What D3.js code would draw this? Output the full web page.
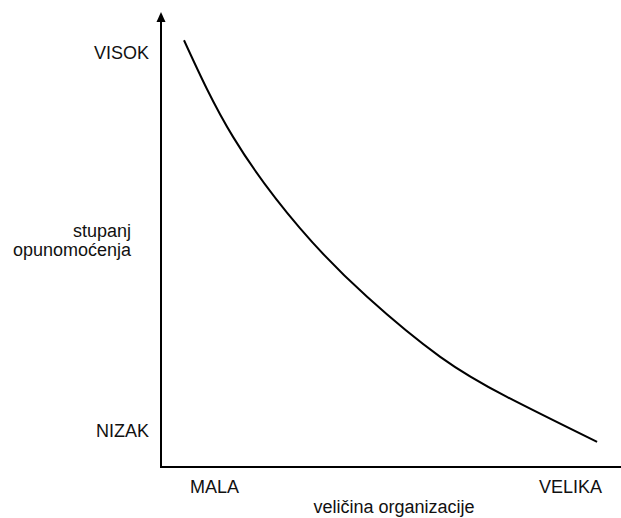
<!DOCTYPE html>
<html>
<head>
<meta charset="utf-8">
<script src="https://cdn.jsdelivr.net/npm/d3@7"></script>
<style>
  html, body { margin: 0; padding: 0; background: #fff; }
  svg { display: block; }
  text { font-family: "Liberation Sans", Arial, Helvetica, sans-serif; font-size: 18px; fill: #111; }
</style>
</head>
<body>
<div id="chart"></div>
<script>
// Degree of empowerment (0–100) against organisation size (0–100)
const sizeValues = [5.0, 15.7, 30.2, 44.8, 60.7, 75.2, 94.8];
const empowermentValues = [93.8, 72.5, 52.5, 37.4, 24.2, 15.4, 5.5];

// Axis labels
const yTickValues = [91, 8];
const yTickLabels = ["VISOK", "NIZAK"];
const xTickValues = [11.5, 88.9];
const xTickLabels = ["MALA", "VELIKA"];
const yTitleLines = ["stupanj", "opunomoćenja"];
const xTitle = "veličina organizacije";

const width = 621, height = 518;
const originX = 161, originY = 467;

const svg = d3.select("#chart").append("svg")
  .attr("width", width)
  .attr("height", height);

const x = d3.scaleLinear().domain([0, 100]).range([originX, 621]);
const y = d3.scaleLinear().domain([0, 100]).range([originY, 12]);

// Axes: tick labels only, lines drawn separately
const yAxis = d3.axisLeft(y)
  .tickValues(yTickValues)
  .tickFormat((d, i) => yTickLabels[i])
  .tickSize(0)
  .tickPadding(12);
const yG = svg.append("g").attr("transform", `translate(${originX},0)`).call(yAxis);
yG.select(".domain").remove();
yG.selectAll("text").attr("font-size", 18).attr("fill", "#111")
  .attr("font-family", "Liberation Sans, Arial, sans-serif");

const xAxis = d3.axisBottom(x)
  .tickValues(xTickValues)
  .tickFormat((d, i) => xTickLabels[i])
  .tickSize(0)
  .tickPadding(13);
const xG = svg.append("g").attr("transform", `translate(0,${originY})`).call(xAxis);
xG.select(".domain").remove();
xG.selectAll("text").attr("font-size", 18).attr("fill", "#111")
  .attr("font-family", "Liberation Sans, Arial, sans-serif");

// Axis lines
svg.append("line")
  .attr("x1", x(0)).attr("y1", y(0))
  .attr("x2", x(100)).attr("y2", y(0))
  .attr("stroke", "#000").attr("stroke-width", 2);
svg.append("line")
  .attr("x1", x(0)).attr("y1", y(0) + 1)
  .attr("x2", x(0)).attr("y2", y(100) + 8)
  .attr("stroke", "#000").attr("stroke-width", 2);

// Arrowhead at the top of the vertical axis
const tipX = x(0), tipY = y(100);
svg.append("path")
  .attr("d", `M${tipX},${tipY} L${tipX - 4.5},${tipY + 10} L${tipX + 4.5},${tipY + 10} Z`)
  .attr("fill", "#000");

// Curve
const pts = sizeValues.map((s, i) => [s, empowermentValues[i]]);
const line = d3.line()
  .x(d => x(d[0]))
  .y(d => y(d[1]))
  .curve(d3.curveNatural);
svg.append("path")
  .datum(pts)
  .attr("d", line)
  .attr("fill", "none")
  .attr("stroke", "#000")
  .attr("stroke-width", 2);

// Axis titles
const yTitle = svg.append("text")
  .attr("text-anchor", "end");
yTitleLines.forEach((t, i) => {
  yTitle.append("tspan")
    .attr("x", 131)
    .attr("y", 237 + i * 19)
    .text(t);
});

svg.append("text")
  .attr("x", 394)
  .attr("y", 513)
  .attr("text-anchor", "middle")
  .text(xTitle);
</script>
</body>
</html>
